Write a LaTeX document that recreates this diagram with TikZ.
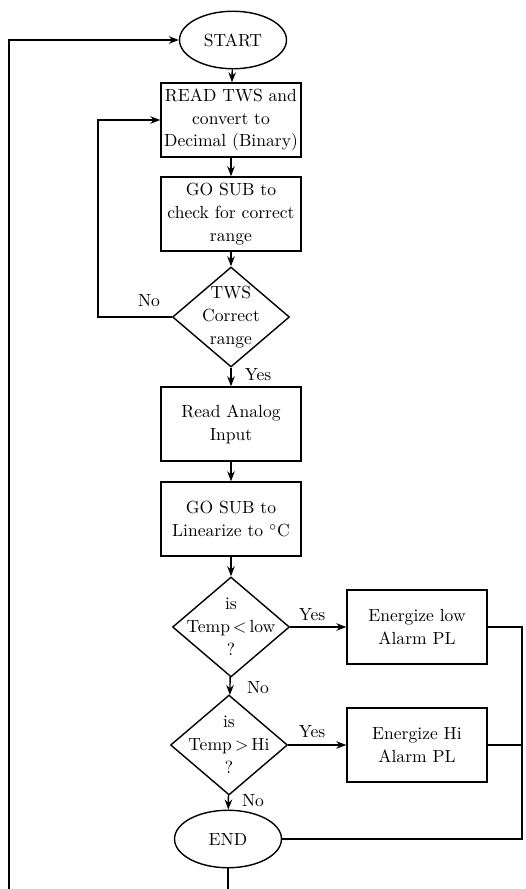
\documentclass[tikz,border=0pt]{standalone}
\usepackage{amsmath}
\usetikzlibrary{shapes.geometric, arrows.meta, positioning}

\begin{document}
\begin{tikzpicture}[
    x=0.02cm, y=-0.02cm,
    font=\fontsize{10}{13}\selectfont,
    block/.style={rectangle, draw, thick, text width=2.7cm, align=center, minimum width=2.8cm, minimum height=1.48cm, inner sep=1pt},
    terminal/.style={ellipse, draw, thick, minimum width=2.14cm, minimum height=1.15cm},
    decision/.style={diamond, draw, thick, minimum width=2.34cm, minimum height=2cm, inner sep=0pt},
    arrow/.style={-{Stealth[length=2mm]}, thick},
    line/.style={thick}
]
    \useasboundingbox (0,0) rectangle (526,889);

    % Start and input
    \node[terminal] (start) at (233, 40) {START};
    \node[block] (read_tws) at (231, 120) {READ TWS and\\convert to\\Decimal (Binary)};
    \node[block] (sub_range) at (231, 214) {GO SUB to\\check for correct\\range};
    \node[decision, label={[align=center]center:TWS\\Correct\\range}] (chk_range) at (231, 317) {};

    % Analog input
    \node[block] (read_analog) at (231, 424) {Read Analog\\Input};
    \node[block] (sub_lin) at (231, 519) {GO SUB to\\Linearize to $^\circ$C};

    % Alarm checks
    \node[decision, label={[align=center]center:is\\Temp$\,<\,$low\\?}] (chk_low) at (231, 627) {};
    \node[block] (alarm_low) at (417, 627) {Energize low\\Alarm PL};
    \node[decision, label={[align=center]center:is\\Temp$\,>\,$Hi\\?}] (chk_hi) at (229, 745) {};
    \node[block] (alarm_hi) at (417, 745) {Energize Hi\\Alarm PL};
    \node[terminal] (stop) at (228, 839) {END};

    % Labels
    \node (no_range) at (149, 301) {No};
    \node (yes_range) at (258, 375) {Yes};
    \node (yes_low) at (312, 615) {Yes};
    \node (no_low) at (258, 688) {No};
    \node (yes_hi) at (312, 732) {Yes};
    \node (no_hi) at (253, 801) {No};

    % Helper points
    \coordinate (loop_in) at (98, 317);
    \coordinate (rail) at (522, 627);
    \coordinate (bottom) at (228, 895);
    \coordinate (left_rail) at (9, 40);

    % Connections
    \draw[arrow] (start) -- (read_tws);
    \draw[arrow] (read_tws) -- (sub_range);
    \draw[arrow] (sub_range) -- (chk_range);
    \draw[arrow] (chk_range.west) -- (loop_in) |- (read_tws.west);
    \draw[arrow] (chk_range) -- (read_analog);
    \draw[arrow] (read_analog) -- (sub_lin);
    \draw[arrow] (sub_lin) -- (chk_low);
    \draw[arrow] (chk_low) -- (alarm_low);
    \draw[arrow] (chk_low) -- (chk_hi);
    \draw[arrow] (chk_hi) -- (alarm_hi);
    \draw[arrow] (chk_hi) -- (stop);

    % Return paths
    \draw[line] (alarm_low.east) -- (rail) |- (stop.east);
    \draw[line] (alarm_hi.east) -- (alarm_hi.east -| rail);
    \draw[arrow] (stop.south) -- (bottom) -| (left_rail) -- (start.west);

\end{tikzpicture}
\end{document}
